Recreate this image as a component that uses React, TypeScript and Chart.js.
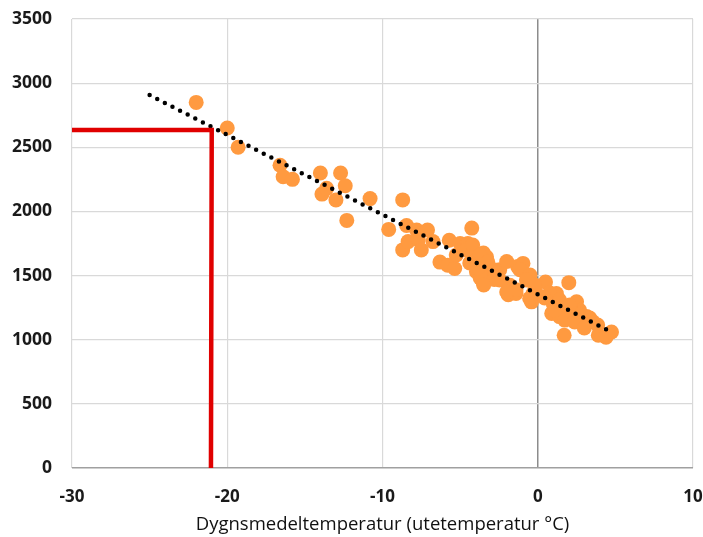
import React, { useEffect, useRef } from "react";
import { Chart, registerables } from "chart.js";

Chart.register(...registerables);

const temperature: number[] = [
  -22.0, -20.0, -19.3, -16.6, -16.4, -15.8, -14.0, -13.9, -13.6, -13.0, -12.7, -12.4, -12.3, -10.8,
  -9.6, -8.7, -8.45, -8.7, -8.35, -7.8, -7.7, -7.5, -7.1, -6.75, -6.3, -5.8, -5.35, -5.7, -5.25,
  -5.0, -4.5, -4.25, -4.2, -3.75, -3.5, -3.3, -3.95, -3.2, -3.5, -3.0, -3.3, -2.45, -2.0, -1.8,
  -1.9, -1.3, -1.4, -1.4, -0.95, -1.15, -0.5, -0.4, -0.3, -0.73, -0.52, -0.08, -4.6, -3.9, -3.7,
  -2.8, 0.5, 2.0, 1.2, 0.9, 1.4, 2.5, 2.7, 1.7, 3.55, 3.9, 4.4, 4.75, 2.05, 3.15, 1.0, 1.6, 2.2,
  -4.19, -3.73, -3.22, -2.77, -3.86, -3.48, -4.38, -2.45, -2.0,
  0.77, 1.4, 2.06, 2.7, 3.35, 3.86, 1.74, 1.1, 2.38, 3.0, 0.45, -0.2,
];
const power: number[] = [
  2850, 2650, 2500, 2360, 2270, 2250, 2300, 2135, 2180, 2090, 2300, 2200, 1930, 2100,
  1860, 2090, 1890, 1700, 1765, 1855, 1780, 1700, 1855, 1765, 1605, 1580, 1555, 1775, 1660,
  1750, 1750, 1870, 1675, 1620, 1675, 1645, 1530, 1555, 1440, 1490, 1515, 1545, 1610, 1425,
  1350, 1570, 1360, 1390, 1595, 1545, 1505, 1295, 1360, 1465, 1322, 1362, 1700, 1600, 1480,
  1470, 1450, 1445, 1360, 1205, 1180, 1295, 1230, 1035, 1140, 1035, 1020, 1060, 1255, 1180, 1280, 1230, 1200,
  1738, 1660, 1606, 1543, 1559, 1426, 1598, 1465, 1372,
  1364, 1309, 1270, 1193, 1169, 1115, 1153, 1231, 1138, 1091, 1325, 1426,
];

const trendX: number[] = [-25.0, 4.4];
const trendY: number[] = [2907, 1081];

const markX: number[] = [-30, -21.0, -21.05];
const markY: number[] = [2634, 2634, -15];

const xTicks: number[] = [-30, -20, -10, 0, 10];
const yTicks: number[] = [0, 500, 1000, 1500, 2000, 2500, 3000, 3500];

const xTitle = "Dygnsmedeltemperatur (utetemperatur °C)";

function zeroPad(s: any) {
  s.paddingLeft = 0;
  s.paddingRight = 0;
  s.paddingTop = 0;
  s.paddingBottom = 0;
}

export default function App() {
  const ref = useRef<HTMLCanvasElement | null>(null);

  useEffect(() => {
    if (!ref.current) return;
    const font = "'Open Sans', 'Noto Sans', sans-serif";
    const chart = new Chart(ref.current, {
      type: "scatter",
      data: {
        datasets: [
          {
            data: markX.map((x, i) => ({ x, y: markY[i] })),
            showLine: true,
            borderColor: "#e00000",
            borderWidth: 4.5,
            pointRadius: 0,
            borderCapStyle: "butt",
            borderJoinStyle: "miter",
            order: 0,
          },
          {
            data: trendX.map((x, i) => ({ x, y: trendY[i] })),
            showLine: true,
            borderColor: "#000000",
            borderWidth: 4.5,
            borderDash: [0, 8.55],
            borderCapStyle: "round",
            pointRadius: 0,
            order: 1,
          },
          {
            data: temperature.map((x, i) => ({ x, y: power[i] })),
            backgroundColor: "#ff9a40",
            borderWidth: 0,
            pointRadius: 7.5,
            order: 2,
          },
        ],
      },
      options: {
        animation: false,
        responsive: false,
        layout: { padding: { top: 19, right: 10, left: 0, bottom: 0 } },
        plugins: { legend: { display: false }, tooltip: { enabled: false } },
        scales: {
          x: {
            type: "linear",
            min: -30,
            max: 10,
            afterBuildTicks: (s: any) => {
              s.ticks = xTicks.map((v) => ({ value: v }));
            },
            afterFit: (s: any) => {
              s.height = 69;
              zeroPad(s);
            },
            ticks: {
              padding: 19,
              color: "#1a1a1a",
              font: { family: font, size: 17, weight: "bold" },
              callback: (v: any) => String(v),
            },
            grid: {
              drawTicks: false,
              color: (c: any) => (c.tick && c.tick.value === 0 ? "#8c8c8c" : "#d9d9d9"),
              lineWidth: (c: any) => (c.tick && c.tick.value === 0 ? 1.5 : 1.2),
            },
            border: { display: false },
            title: {
              display: true,
              text: xTitle,
              color: "#111111",
              padding: { top: 0, bottom: 1 },
              font: { family: font, size: 18.5 },
            },
          },
          y: {
            type: "linear",
            min: 0,
            max: 3500,
            afterBuildTicks: (s: any) => {
              s.ticks = yTicks.map((v) => ({ value: v }));
            },
            afterFit: (s: any) => {
              s.width = 72;
              zeroPad(s);
            },
            ticks: {
              padding: 20,
              color: "#1a1a1a",
              font: { family: font, size: 17.5, weight: "bold" },
              callback: (v: any) => String(v),
            },
            grid: {
              drawTicks: false,
              color: (c: any) => (c.tick && c.tick.value === 0 ? "#a0a0a0" : "#d9d9d9"),
              lineWidth: (c: any) => (c.tick && c.tick.value === 0 ? 1.5 : 1.2),
            },
            border: { display: false },
          },
        },
      },
    });
    return () => chart.destroy();
  }, []);

  return (
    <div style={{ position: "fixed", left: 0, top: 0, width: 703, height: 537, background: "#fff" }}>
      <canvas ref={ref} width={703} height={537} style={{ display: "block" }} />
    </div>
  );
}
